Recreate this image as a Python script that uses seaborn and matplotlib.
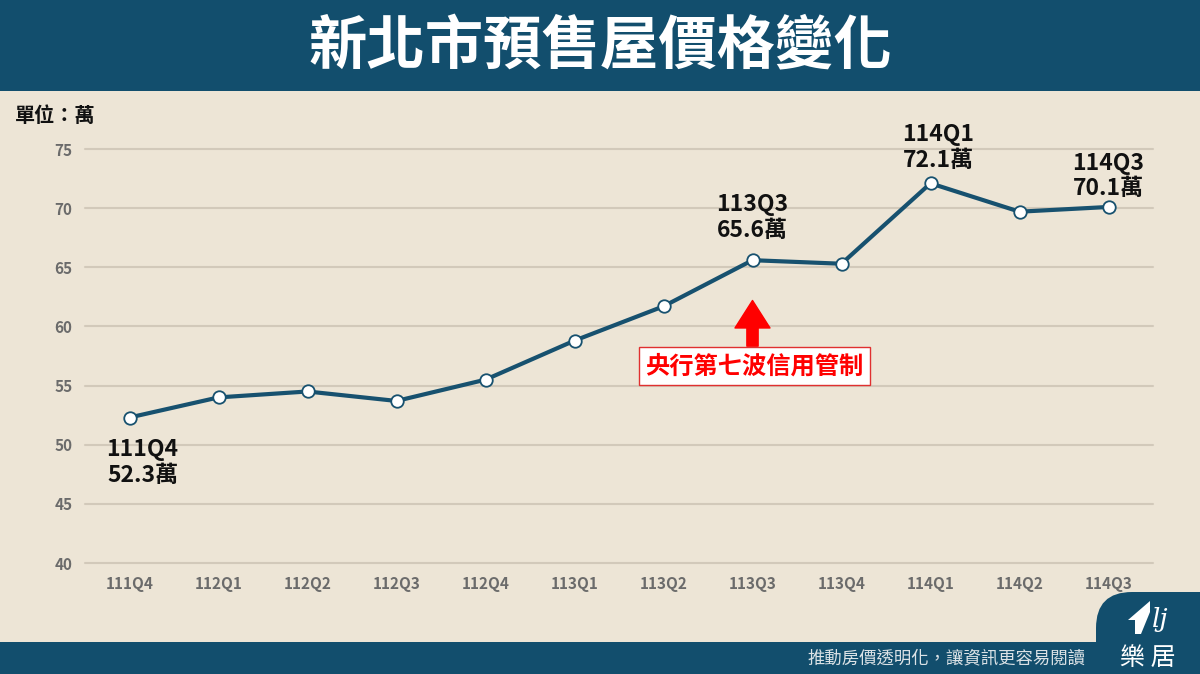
import matplotlib
matplotlib.use("Agg")
import matplotlib.pyplot as plt
from matplotlib.patches import Rectangle, FancyBboxPatch, Polygon
import seaborn as sns
import pandas as pd

quarters = ["111Q4", "112Q1", "112Q2", "112Q3", "112Q4", "113Q1",
            "113Q2", "113Q3", "113Q4", "114Q1", "114Q2", "114Q3"]
prices = [52.3, 54.0, 54.5, 53.7, 55.5, 58.8, 61.7, 65.6, 65.3, 72.1, 69.7, 70.1]
y_ticks = [40, 45, 50, 55, 60, 65, 70, 75]
title = "新北市預售屋價格變化"
unit_label = "單位：萬"
event_label = "央行第七波信用管制"
event_quarter = "113Q3"
footer = "推動房價透明化，讓資訊更容易閱讀"
brand = "樂 居"
# labelled points: quarter -> (dx, dy) pixel offset of label centre
labelled = {"111Q4": (13, -45), "113Q3": (0, 43), "114Q1": (8, 36), "114Q3": (0, 31)}

BG = "#ede5d6"
NAVY = "#124e6d"
LINE = "#17516f"
GRID = "#d2c9ba"
TICK = "#6b6b6b"

sns.set_theme(style="white")
plt.rcParams["font.family"] = ["Noto Sans CJK TC", "DejaVu Sans"]

W, H = 1200, 674
fig = plt.figure(figsize=(W / 100, H / 100), dpi=100, facecolor=BG)

# header banner
fig.patches.append(Rectangle((0, 1 - 91 / H), 1, 91 / H, transform=fig.transFigure,
                             facecolor=NAVY, edgecolor="none", zorder=0))
fig.text(0.5, 1 - 47 / H, title, ha="center", va="center", color="white",
         fontsize=42, fontweight="bold")

# footer bar + tab
fig.patches.append(Rectangle((0, 0), 1, 32 / H, transform=fig.transFigure,
                             facecolor=NAVY, edgecolor="none", zorder=0))
fig.patches.append(FancyBboxPatch((1096 / W, -40 / H), 200 / W, (82 + 40) / H,
                                  boxstyle="round,pad=0,rounding_size=0.03",
                                  transform=fig.transFigure, facecolor=NAVY,
                                  edgecolor="none", zorder=0, mutation_aspect=W / H))
fig.text(1085 / W, 16 / H, footer, ha="right", va="center", color="#dbe2e6", fontsize=12.5)
fig.text(1148 / W, 16 / H, brand, ha="center", va="center", color="white", fontsize=18)
# simple logo mark
fig.patches.append(Polygon([(1128 / W, 1 - 620 / H), (1150 / W, 1 - 601 / H),
                            (1150 / W, 1 - 612 / H), (1141 / W, 1 - 634 / H),
                            (1135 / W, 1 - 634 / H), (1135 / W, 1 - 620 / H)],
                           closed=True, transform=fig.transFigure,
                           facecolor="white", edgecolor="none"))
fig.text(1160 / W, 1 - 620 / H, "lj", ha="center", va="center", color="white",
         fontsize=19, fontstyle="italic", family="DejaVu Serif")

fig.text(15 / W, 1 - 116 / H, unit_label, ha="left", va="center", color="#111111",
         fontsize=14.5, fontweight="bold")

ax = fig.add_axes([85 / W, 1 - 563 / H, (1153 - 85) / W, (563 - 149) / H])
ax.set_facecolor("none")

df = pd.DataFrame({"quarter": quarters, "price": prices})
sns.lineplot(data=df, x="quarter", y="price", sort=False, ax=ax, color=LINE,
             linewidth=3, marker="o", markersize=9, markerfacecolor="white",
             markeredgecolor=LINE, markeredgewidth=1.3, zorder=5)

ax.set_xlim(-0.5, len(quarters) - 0.5)
ax.set_ylim(y_ticks[0], y_ticks[-1])
ax.set_yticks(y_ticks)
ax.set_xticks(range(len(quarters)))
ax.set_xticklabels(quarters)
ax.set_xlabel("")
ax.set_ylabel("")
for s in ax.spines.values():
    s.set_visible(False)
ax.grid(axis="y", color=GRID, linewidth=1.5)
ax.grid(axis="x", visible=False)
for gl in ax.get_ygridlines():
    gl.set_clip_on(False)
ax.tick_params(axis="y", length=0, pad=9, labelsize=11, labelcolor=TICK)
ax.tick_params(axis="x", length=0, pad=9, labelsize=11, labelcolor=TICK)
for lab in ax.get_xticklabels() + ax.get_yticklabels():
    lab.set_fontweight("bold")

for q, (dx, dy) in labelled.items():
    i = quarters.index(q)
    ax.annotate(f"{q}\n{prices[i]:.1f}萬", xy=(i, prices[i]), xytext=(dx, dy),
                textcoords="offset pixels", ha="center", va="center",
                fontsize=16.5, fontweight="bold", color="#111111",
                linespacing=1.15, zorder=6)

ei = quarters.index(event_quarter)
ax.annotate("", xy=(ei, prices[ei]), xytext=(0, -86), textcoords="offset pixels",
            arrowprops=dict(arrowstyle="simple,head_length=1.1,head_width=1.4,tail_width=0.45",
                            color="#ff0000", shrinkA=0, shrinkB=29, mutation_scale=18),
            zorder=6)
ax.annotate(event_label, xy=(ei, prices[ei]), xytext=(2, -106), textcoords="offset pixels",
            ha="center", va="center", fontsize=17.5, fontweight="bold", color="#ff0000",
            bbox=dict(boxstyle="square,pad=0.28", facecolor="white", edgecolor="#e03030",
                      linewidth=1),
            zorder=7)

fig.savefig("out.png", dpi=100, facecolor=BG)
